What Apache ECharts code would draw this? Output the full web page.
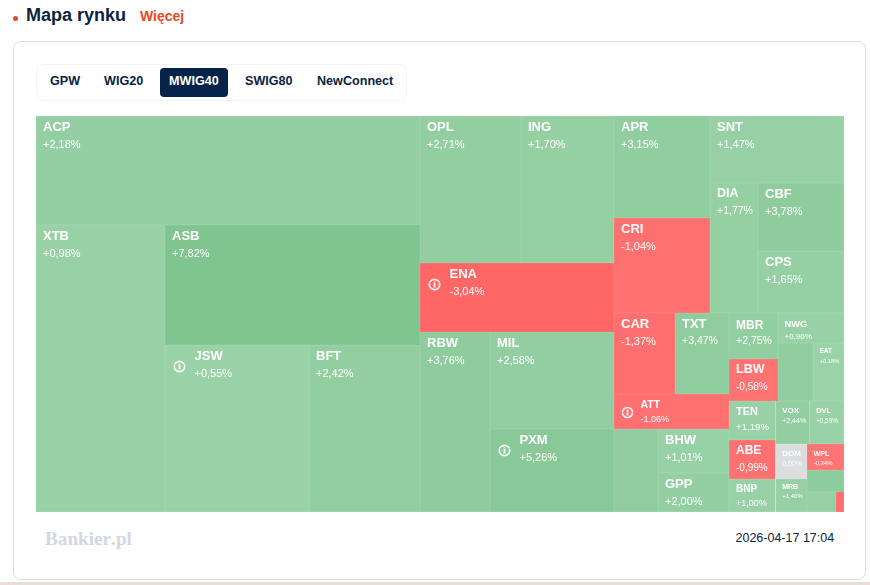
<!DOCTYPE html>
<html lang="pl">
<head>
<meta charset="utf-8">
<title>Mapa rynku</title>
<script src="https://cdn.jsdelivr.net/npm/echarts@6/dist/echarts.min.js"></script>
<style>
html,body{margin:0;padding:0;background:#fff;width:870px;height:585px;overflow:hidden;font-family:"Liberation Sans",Arial,sans-serif;color:#0a2342}
.abs{position:absolute;white-space:nowrap}
#dot{left:13px;top:16px;width:5px;height:5px;border-radius:50%;background:#e8491d}
#title{left:26px;top:4px;font-size:18px;line-height:22px;font-weight:700}
#more{left:140px;top:7px;font-size:14px;line-height:18px;font-weight:700;color:#e8491d}
#card{left:13px;top:41px;width:851px;height:537px;border:1px solid #dedede;border-radius:8px;background:#fff}
#tabs{left:36px;top:64px;width:369px;height:35px;border:1px solid #f3f3f3;border-radius:8px}
.tab{top:68px;height:29px;line-height:27px;font-size:12.6px;font-weight:700}
#active{left:160px;top:68px;width:68px;height:29px;border-radius:4px;background:#05234a}
#chart{left:36px;top:116px;width:808px;height:396px}
#logo{left:45px;top:528px;font-family:"Liberation Serif",serif;font-weight:700;font-size:19.2px;line-height:22px;color:#d3d7df}
#logo b{color:#f6c9b8}
#stamp{left:735.5px;top:530px;font-size:12.5px;line-height:16px}
#band{left:0;top:582px;width:870px;height:3px;background:#e9ded6}
</style>
</head>
<body>
<div class="abs" id="dot"></div>
<div class="abs" id="title">Mapa rynku</div>
<div class="abs" id="more">Więcej</div>
<div class="abs" id="card"></div>
<div class="abs" id="tabs"></div>
<div class="abs" id="active"></div>
<div class="abs tab" style="left:50px">GPW</div>
<div class="abs tab" style="left:104px">WIG20</div>
<div class="abs tab" style="left:169px;color:#fff">MWIG40</div>
<div class="abs tab" style="left:245px">SWIG80</div>
<div class="abs tab" style="left:317px">NewConnect</div>
<div class="abs" id="chart"></div>
<div class="abs" id="logo">Bankier<b>.</b>pl</div>
<div class="abs" id="stamp">2026-04-17 17:04</div>
<div class="abs" id="band"></div>
<script>
// Spółki: nazwa, wielkość pola, zmiana w %
const tickers = ['ACP','XTB','ASB','JSW','BFT','OPL','ING','ENA','RBW','MIL','PXM','APR','CRI','SNT','DIA','CBF','CPS','CAR','TXT','ATT','U1','BHW','GPP','MBR','LBW','NWG','U2','EAT','TEN','ABE','BNP','VOX','DVL','DOM','MRB','WPL','U3','U4','U5'];
const sizes = [41856,37023,30600,24048,18537,14847,13671,13386,12600,12028,10292,9792,9120,8978,6240,5848,5332,4941,4374,4025,3652,3124,2769,2254,2058,1980,2030,1798,1821,1821,1541,1462,1475,1096,1033,962,814,580,160];
const changes = [2.18,0.98,7.82,0.55,2.42,2.71,1.70,-3.04,3.76,2.58,5.26,3.15,-1.04,1.47,1.77,3.78,1.65,-1.37,3.47,-1.06,3.0,1.01,2.00,2.75,-0.58,0.90,3.0,0.18,1.19,-0.99,1.00,2.44,0.59,0.00,1.40,-0.34,4.0,1.5,-1.5];
// Układ zagnieżdżenia pól
const layoutTree = [
  ['ACP','XTB','ASB','JSW','BFT'],
  [['OPL','ING'],'ENA','RBW','MIL','PXM'],
  [
    [['APR','CRI'],['SNT','DIA','CBF','CPS']],
    [
      [['CAR','TXT'],'ATT','U1','BHW','GPP'],
      [
        [['MBR','LBW'],['NWG','U2','EAT']],
        [['TEN','ABE','BNP'],[['VOX','DVL'],[['DOM','MRB'],['WPL','U3',['U4','U5']]]]]
      ]
    ]
  ]
];
const iconTickers = ['JSW','ENA','ATT','PXM'];
// Typografia: [rozmiar nazwy, rozmiar zmiany, x, y, wysokość linii 1, wysokość linii 2]
const typeBig = [13,11,6.5,2,17,18];
const typography = {
  DIA:[12.5,10.5,6.5,2,17,18], TXT:[13,10.5,6.5,2,17,18],
  MBR:[12,10.5,6.5,4,16,16], LBW:[12.5,10,6.5,2,17,18], TEN:[11,9.7,6.5,3,15,15], ABE:[12,10,6.5,2,17,18],
  BNP:[10,9,6.5,3,14,14], ATT:[10.5,9,0,3,15,15], NWG:[9.3,8,6,4,13,13], VOX:[8,7,6,4,10,11],
  DVL:[7.5,6.3,6,4,10,11], DOM:[8,7,6,4,10,11], WPL:[7.2,6,6,5,9,9], MRB:[7,6,6,3,9,9], EAT:[6.5,5.8,6,3,10,10]
};

function mix(a,b,t){return a.map((c,i)=>Math.round(c+(b[i]-c)*t));}
function css(c){return 'rgb('+c.join(',')+')';}
function tileRgb(v){
  if(v===0) return [220,221,223];
  return v>0 ? mix([155,211,169],[127,196,143],Math.min(v/8,1)) : mix([255,118,118],[255,102,102],Math.min(-v/3,1));
}
function ringUri(cy,w,h,cx,r){
  const svg="<svg xmlns='http://www.w3.org/2000/svg' width='"+w+"' height='"+h+"'><circle cx='"+cx+"' cy='"+cy+"' r='"+r+"' fill='none' stroke='#fff' stroke-opacity='.9' stroke-width='1.7'/><rect x='"+(cx-1)+"' y='"+(cy-3)+"' width='2' height='6' fill='#fff' fill-opacity='.9'/></svg>";
  return 'data:image/svg+xml;charset=utf-8,'+encodeURIComponent(svg);
}
function fmtPct(v){
  return (v>0?'+':'')+v.toFixed(2).replace('.',',')+'%';
}
function leaf(name){
  const i=tickers.indexOf(name), blank=name.charAt(0)==='U', rgb=tileRgb(changes[i]);
  const edge=mix(rgb,[255,255,255],.12);
  const node={name:blank?'':name,value:sizes[i],itemStyle:{color:css(rgb),borderWidth:.5,borderColor:css(edge)}};
  if(blank){node.label={show:false};return node;}
  const t=typography[name]||typeBig, rich={
    n:{fontSize:t[0],fontWeight:'bold',color:'#fff',lineHeight:t[4],fontFamily:'Liberation Sans'},
    p:{fontSize:t[1],color:'#fff',lineHeight:t[5],fontFamily:'Liberation Sans'}
  };
  let text='{n|'+name+'}\n{p|'+fmtPct(changes[i])+'}', x=t[2];
  if(iconTickers.includes(name)){
    const small=name==='ATT', w=small?26:29, cx=small?13:14, r=small?5:5.2;
    const lh1=t[4], lh2=t[5], shift=small?0:2;
    rich.a={width:w,height:lh1,lineHeight:lh1,backgroundColor:{image:ringUri(lh1+shift,w,lh1,cx,r)}};
    rich.b={width:w,height:lh2,lineHeight:lh2,backgroundColor:{image:ringUri(shift,w,lh2,cx,r)}};
    text='{a|}{n|'+name+'}\n{b|}{p|'+fmtPct(changes[i])+'}';
    x=0;
  }
  node.label={show:true,position:[x,t[3]],align:'left',verticalAlign:'top',padding:0,overflow:'none',formatter:text,rich};
  return node;
}
function build(n){
  return typeof n==='string' ? leaf(n) : {name:'',children:n.map(build),itemStyle:{borderWidth:0,gapWidth:0},label:{show:false}};
}
const chart=echarts.init(document.getElementById('chart'),null,{renderer:'canvas'});
chart.setOption({
  animation:false,
  tooltip:{show:false},
  series:[{
    type:'treemap',left:0,top:0,right:0,bottom:0,width:'100%',height:'100%',
    roam:false,nodeClick:false,breadcrumb:{show:false},
    sort:false,squareRatio:1e-6,visibleMin:0,leafDepth:null,
    silent:true,
    itemStyle:{borderWidth:0,gapWidth:0},
    upperLabel:{show:false},
    label:{show:false},
    data:layoutTree.map(build)
  }]
});
</script>
</body>
</html>
